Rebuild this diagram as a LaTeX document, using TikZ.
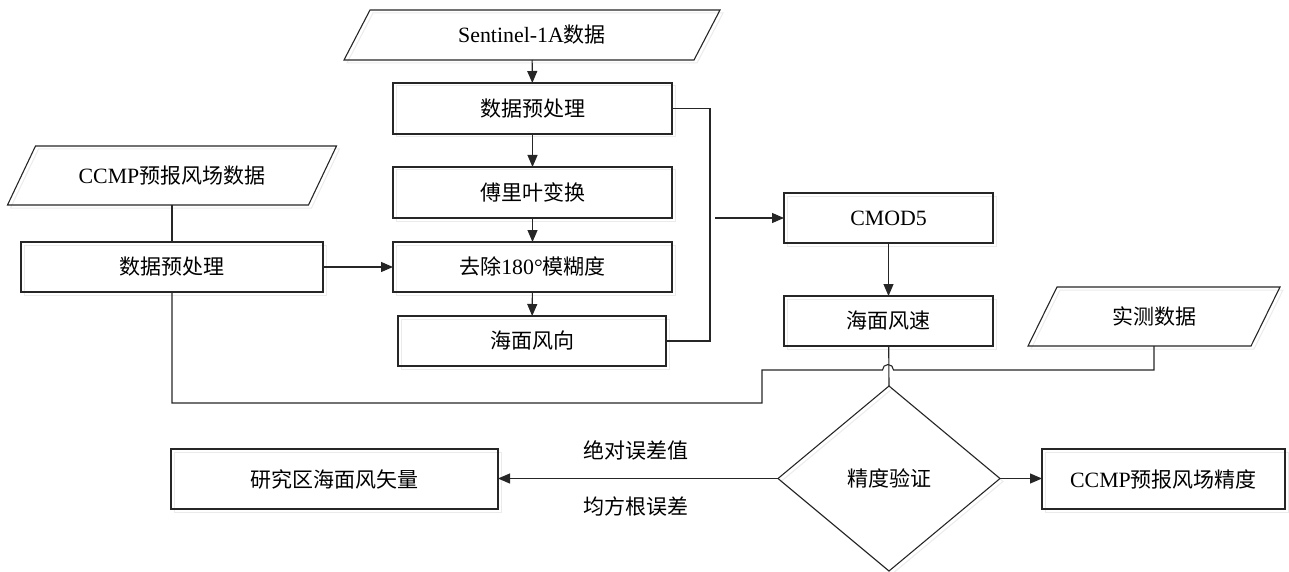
\documentclass[tikz,border=0pt]{standalone}
\usepackage{fontspec}
\setmainfont{Liberation Serif}[Scale=1.04]
\newfontfamily\cjk{Noto Sans CJK SC}
\newcommand\zh[1]{{\cjk #1}}
\usetikzlibrary{arrows.meta,shapes.geometric}
\begin{document}
\begin{tikzpicture}[x=1pt,y=-1pt,
  every node/.style={font=\fontsize{21}{25}\selectfont, inner sep=0pt, outer sep=0pt},
  line/.style={draw=black!85, line width=1.1pt},
  arr/.style={line, -{Triangle[length=12pt,width=10pt]}},
  shadowbox/.style={preaction={draw=black!8, line width=1pt, transform canvas={shift={(3pt,-3pt)}}}},
  box/.style={rectangle, line, shadowbox, minimum height=50pt},
  iobox/.style={rectangle},
  dec/.style={diamond, line, shadowbox, minimum width=222pt, minimum height=185pt}
]
\useasboundingbox (0,0) rectangle (1289,572);

% input parallelograms (text holders)
\node[iobox, minimum width=350pt, minimum height=50pt] (sent) at (532,35) {Sentinel-1A\zh{数据}};
\node[iobox, minimum width=301pt, minimum height=59pt] (ccmp) at (172,175.5) {CCMP\zh{预报风场数据}};
\node[iobox, minimum width=223pt, minimum height=59pt] (meas) at (1154,316.5) {\zh{实测数据}};
\draw[line, shadowbox] ([xshift=13pt]sent.north west) -- ([xshift=13pt]sent.north east) -- ([xshift=-13pt]sent.south east) -- ([xshift=-13pt]sent.south west) -- cycle;
\draw[line, shadowbox] ([xshift=14pt]ccmp.north west) -- ([xshift=14pt]ccmp.north east) -- ([xshift=-14pt]ccmp.south east) -- ([xshift=-14pt]ccmp.south west) -- cycle;
\draw[line, shadowbox] ([xshift=14.5pt]meas.north west) -- ([xshift=14.5pt]meas.north east) -- ([xshift=-14.5pt]meas.south east) -- ([xshift=-14.5pt]meas.south west) -- cycle;

% process boxes
\node[box, minimum width=279pt, minimum height=51pt] (pre1) at (532.5,108.5) {\zh{数据预处理}};
\node[box, minimum width=279pt, minimum height=51pt] (fft) at (532.5,192.5) {\zh{傅里叶变换}};
\node[box, minimum width=279pt] (amb) at (532.5,267) {\zh{去除}180°\zh{模糊度}};
\node[box, minimum width=268pt] (dir) at (532,341) {\zh{海面风向}};
\node[box, minimum width=302pt] (ccmppre) at (172,267) {\zh{数据预处理}};
\node[box, minimum width=209pt] (cmod) at (888.5,218) {CMOD5};
\node[box, minimum width=209pt] (spd) at (888.5,321) {\zh{海面风速}};
\node[dec] (dia) at (889,478.5) {\zh{精度验证}};
\node[box, minimum width=327pt, minimum height=60pt] (vec) at (334.5,479) {\zh{研究区海面风矢量}};
\node[box, minimum width=243pt, minimum height=60pt] (acc) at (1163.5,479) {CCMP\zh{预报风场精度}};

% edge labels
\node (l1) at (636,450) {\zh{绝对误差值}};
\node (l2) at (636,506) {\zh{均方根误差}};

% connectors
\draw[arr] (sent) -- (pre1);
\draw[arr] (pre1) -- (fft);
\draw[arr] (fft) -- (amb);
\draw[arr] (amb) -- (dir);
\draw[line] (ccmp) -- (ccmppre);
\draw[arr] (ccmppre) -- (amb);
\draw[line] (pre1.east) -- ++(38,0) |- (dir.east);
\coordinate (j) at (715,218);
\draw[arr] (j) -- (cmod.west);
\draw[arr] (cmod) -- (spd);
\draw[line] (spd) -- (dia.north);
\draw[line] (meas.south) -- ++(0,24) -- (893.5,370) arc[start angle=0,end angle=180,radius=5.5pt] -- (762,370) -- (762,403) -| (ccmppre.south);
\draw[arr] (dia.west) -- (vec.east |- dia.west);
\draw[arr] (dia.east) -- (acc.west |- dia.east);
\end{tikzpicture}
\end{document}
